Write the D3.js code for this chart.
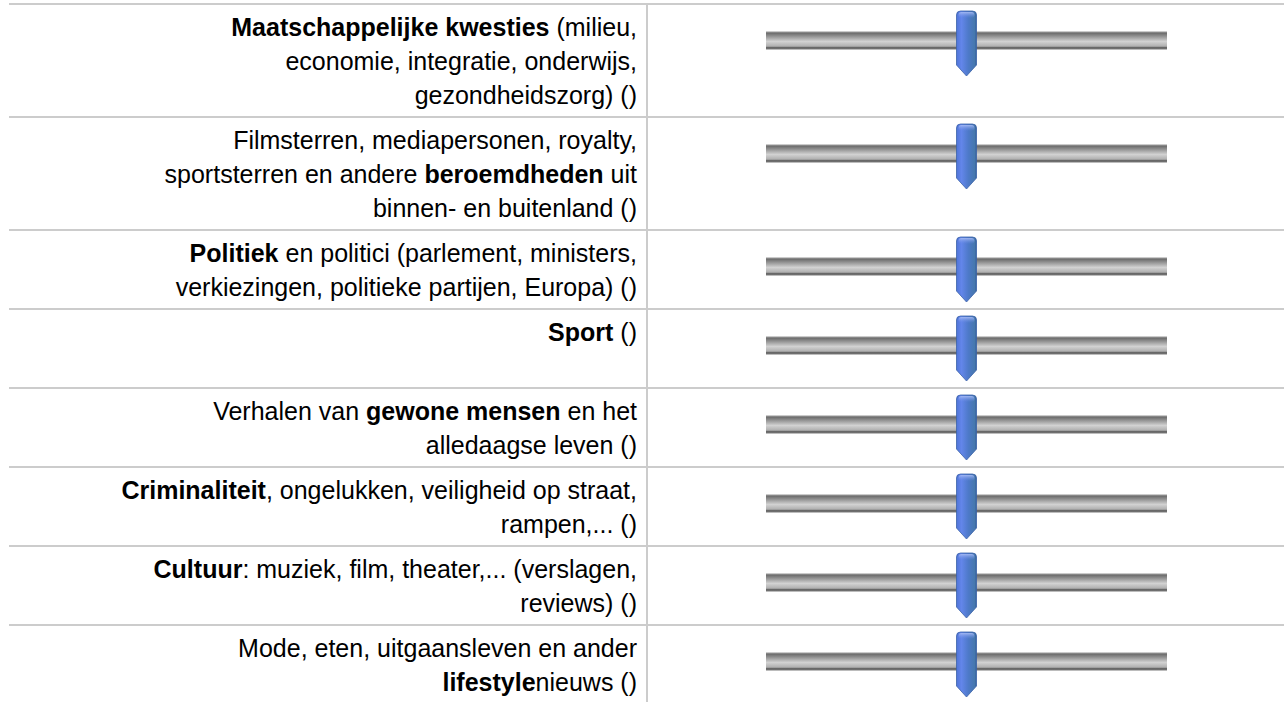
<!DOCTYPE html>
<html>
<head>
<meta charset="utf-8">
<script src="https://cdn.jsdelivr.net/npm/d3@7"></script>
<style>
  body { margin: 0; background: #ffffff; }
  svg { display: block; }
  .topic { font-family: "Liberation Sans", Arial, sans-serif; font-size: 25px; fill: #000000; }
</style>
</head>
<body>
<svg width="1284" height="702"></svg>
<script>
// topic texts, one array of lines per row. **...** marks the bold part
const topicLines = [
  ["**Maatschappelijke kwesties** (milieu,", "economie, integratie, onderwijs,", "gezondheidszorg) ()"],
  ["Filmsterren, mediapersonen, royalty,", "sportsterren en andere **beroemdheden** uit", "binnen- en buitenland ()"],
  ["**Politiek** en politici (parlement, ministers,", "verkiezingen, politieke partijen, Europa) ()"],
  ["**Sport** ()"],
  ["Verhalen van **gewone mensen** en het", "alledaagse leven ()"],
  ["**Criminaliteit**, ongelukken, veiligheid op straat,", "rampen,... ()"],
  ["**Cultuur**: muziek, film, theater,... (verslagen,", "reviews) ()"],
  ["Mode, eten, uitgaansleven en ander", "**lifestyle**nieuws ()"]
];
// slider positions (all in the middle)
const sliderValues = [50, 50, 50, 50, 50, 50, 50, 50];
const sliderDomain = [0, 100];

let svg = d3.select("svg"),
  width = +svg.attr("width"),
  height = +svg.attr("height");

let tableTop = 4,
  textRight = 637,
  dividerX = 647,
  lineGap = 34,
  minRowHeight = 79;

//XAxis of the sliders
let xScale = d3.scaleLinear().domain(sliderDomain).range([766, 1167]);

// row layout from the number of text lines
let rows = [];
let y = tableTop;
topicLines.forEach(function(lines, i) {
  let h = Math.max(minRowHeight, lines.length * lineGap + 11);
  rows.push({ top: y, height: h, lines: lines, value: sliderValues[i] });
  y += h;
});

// gradients
let defs = svg.append("defs");
let trackGrad = defs.append("linearGradient")
  .attr("id", "trackGrad")
  .attr("x1", 0).attr("y1", 0).attr("x2", 0).attr("y2", 1);
[[0, "#eeeeee"], [0.1, "#6a6a6a"], [0.22, "#858585"], [0.55, "#d2d2d2"], [0.8, "#b0b0b0"], [0.88, "#5c5c5c"], [0.94, "#777777"], [1, "#f2f2f2"]]
  .forEach(function(s) {
    trackGrad.append("stop").attr("offset", s[0]).attr("stop-color", s[1]);
  });
let thumbGrad = defs.append("linearGradient")
  .attr("id", "thumbGrad")
  .attr("x1", 0).attr("y1", 0).attr("x2", 1).attr("y2", 0);
[[0, "#4f74d8"], [0.25, "#6386ea"], [0.6, "#4d79c8"], [0.9, "#4678ae"], [1, "#33609a"]]
  .forEach(function(s) {
    thumbGrad.append("stop").attr("offset", s[0]).attr("stop-color", s[1]);
  });
let capGrad = defs.append("linearGradient")
  .attr("id", "capGrad")
  .attr("x1", 0).attr("y1", 0).attr("x2", 0).attr("y2", 1);
capGrad.append("stop").attr("offset", 0).attr("stop-color", "#a9bdf5").attr("stop-opacity", 0.9);
capGrad.append("stop").attr("offset", 1).attr("stop-color", "#6d8ee8").attr("stop-opacity", 0);

// grid lines
let g = svg.append("g");
g.selectAll(".hline")
  .data(rows)
  .enter()
  .append("line")
  .attr("class", "hline")
  .attr("x1", 9)
  .attr("x2", width)
  .attr("y1", function(d) { return d.top; })
  .attr("y2", function(d) { return d.top; })
  .attr("stroke", "#cccccc")
  .attr("stroke-width", 2);

g.append("line")
  .attr("x1", dividerX)
  .attr("x2", dividerX)
  .attr("y1", tableTop)
  .attr("y2", height)
  .attr("stroke", "#cccccc")
  .attr("stroke-width", 2);

// TEXT
let labels = g.selectAll(".topic")
  .data(rows)
  .enter()
  .append("text")
  .attr("class", "topic")
  .attr("text-anchor", "end");

labels.each(function(d) {
  let t = d3.select(this);
  d.lines.forEach(function(line, li) {
    let parts = line.split("**");
    parts.forEach(function(p, pi) {
      if (p === "") return;
      let span = t.append("tspan").text(p);
      if (pi % 2 === 1) span.attr("font-weight", "bold");
      if (pi === 0 || (pi === 1 && parts[0] === "")) {
        span.attr("x", textRight).attr("y", d.top + 32 + li * lineGap);
      }
    });
  });
});

// SLIDERS
let sliders = g.selectAll(".slider")
  .data(rows)
  .enter()
  .append("g")
  .attr("class", "slider");

sliders.append("rect")
  .attr("x", xScale(sliderDomain[0]))
  .attr("width", xScale(sliderDomain[1]) - xScale(sliderDomain[0]))
  .attr("y", function(d) { return d.top + 27; })
  .attr("height", 19)
  .attr("fill", "url(#trackGrad)");

function thumbPath(cx, top) {
  let w = 10, h = 65, r = 4, tip = 11;
  return "M" + (cx - w) + "," + (top + r) +
    "Q" + (cx - w) + "," + top + " " + (cx - w + r) + "," + top +
    "L" + (cx + w - r) + "," + top +
    "Q" + (cx + w) + "," + top + " " + (cx + w) + "," + (top + r) +
    "L" + (cx + w) + "," + (top + h - tip) +
    "L" + cx + "," + (top + h) +
    "L" + (cx - w) + "," + (top + h - tip) + "Z";
}

sliders.append("path")
  .attr("d", function(d) { return thumbPath(xScale(d.value), d.top + 7); })
  .attr("fill", "url(#thumbGrad)")
  .attr("stroke", "#3b62a8")
  .attr("stroke-width", 0.8);

sliders.append("rect")
  .attr("x", function(d) { return xScale(d.value) - 8; })
  .attr("y", function(d) { return d.top + 8; })
  .attr("width", 16)
  .attr("height", 6)
  .attr("rx", 3)
  .attr("fill", "url(#capGrad)");
</script>
</body>
</html>
